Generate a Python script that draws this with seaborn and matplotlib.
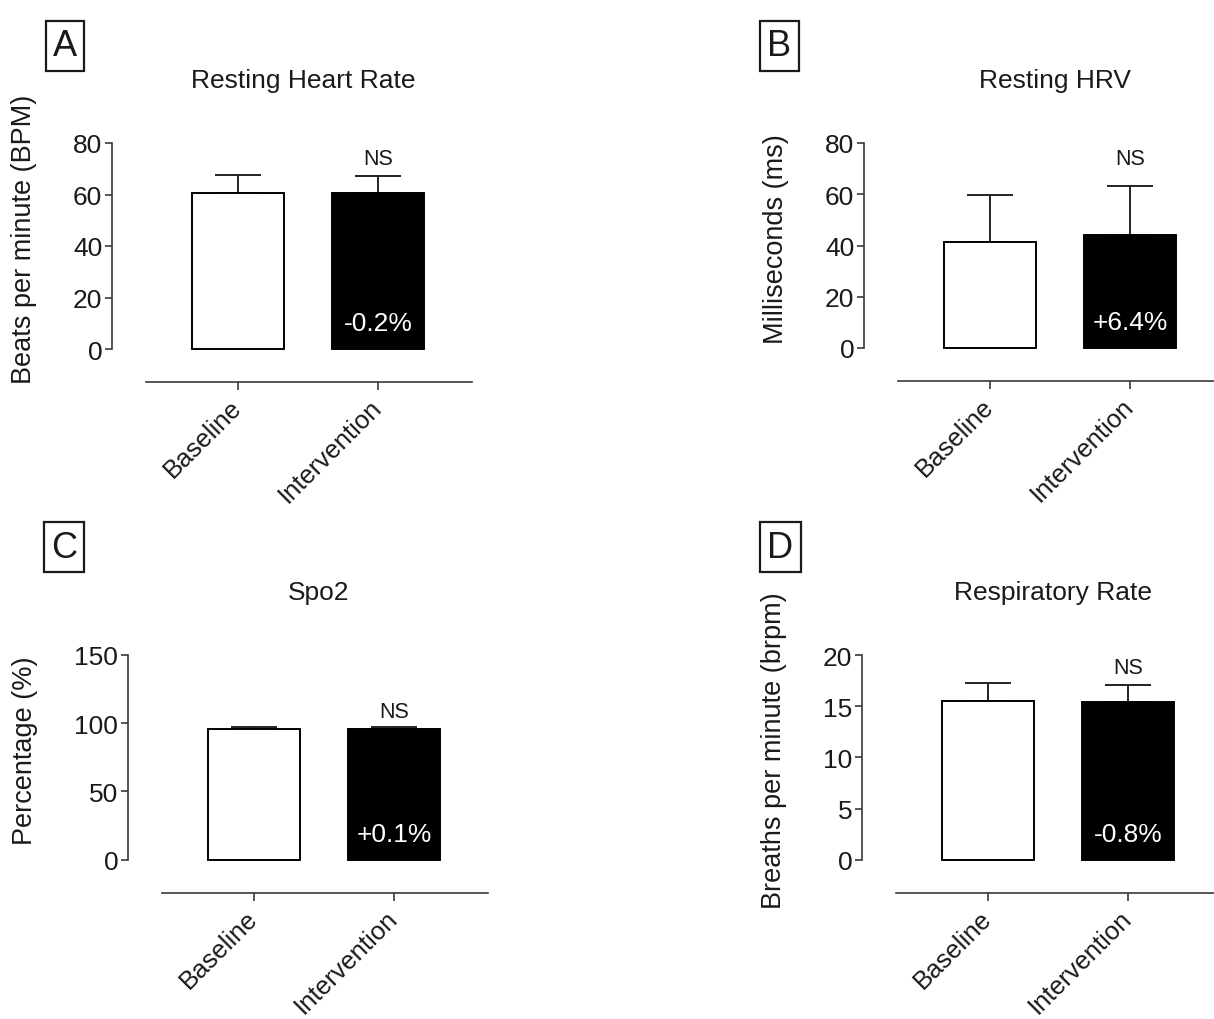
import matplotlib
matplotlib.use("Agg")
import matplotlib.pyplot as plt
import seaborn as sns
import pandas as pd

# ---- data -------------------------------------------------------------
groups = ["Baseline", "Intervention"]

hr_mean = [60.6, 60.5]
hr_sd = [6.8, 6.7]

hrv_mean = [41.5, 44.2]
hrv_sd = [18.3, 19.1]

spo2_mean = [95.8, 95.9]
spo2_sd = [1.2, 1.3]

rr_mean = [15.5, 15.38]
rr_sd = [1.8, 1.7]

titles = ["Resting Heart Rate", "Resting HRV", "Spo2", "Respiratory Rate"]
ylabels = ["Beats per minute (BPM)", "Milliseconds (ms)", "Percentage (%)",
           "Breaths per minute (brpm)"]
letters = ["A", "B", "C", "D"]
changes = ["-0.2%", "+6.4%", "+0.1%", "-0.8%"]
sig = ["NS", "NS", "NS", "NS"]
yticks = [[0, 20, 40, 60, 80], [0, 20, 40, 60, 80], [0, 50, 100, 150],
          [0, 5, 10, 15, 20]]

means = [hr_mean, hrv_mean, spo2_mean, rr_mean]
sds = [hr_sd, hrv_sd, spo2_sd, rr_sd]

# ---- figure -----------------------------------------------------------
sns.set_theme(style="ticks")
plt.rcParams["font.family"] = ["Liberation Sans", "DejaVu Sans"]

W, H = 1214, 1020
fig = plt.figure(figsize=(W / 100, H / 100), dpi=100)

# axes frames in pixels: left, bottom(y from top), top(y from top)
frames = [(112, 350, 144), (864, 349, 144), (128, 860.7, 656), (862, 860.7, 656)]
ax_w = 360
letter_pos = [(65, 47), (779.5, 47), (64, 548), (780.5, 548)]
ns_offset = [17, 27, 16, 17]

ink = "#1a1a1a"
spine_col = "#3a3a3a"
for i in range(4):
    left, bot, top = frames[i]
    ax = fig.add_axes([left / W, (H - bot) / H, ax_w / W, (bot - top) / H])
    df = pd.DataFrame({"group": groups, "value": means[i]})
    sns.barplot(data=df, x="group", y="value", hue="group",
                palette=["white", "black"], edgecolor="black", linewidth=1.4,
                width=0.66, errorbar=None, legend=False, ax=ax, zorder=2)
    for p in ax.patches:
        p.set_clip_on(False)
    ax.errorbar([0, 1], means[i], yerr=[[0, 0], sds[i]], fmt="none",
                ecolor="#222222", elinewidth=1.4, capsize=16.5, capthick=1.4,
                zorder=1, clip_on=False)

    ax.set_xlim(-0.9, 1.67)
    ax.set_ylim(0, yticks[i][-1])
    ax.set_yticks(yticks[i])
    sns.despine(ax=ax)
    ax.spines["left"].set_bounds(0, yticks[i][-1])
    ax.spines["bottom"].set_bounds(-0.66, 1.67)
    ax.spines["bottom"].set_position(("outward", 24))
    for s in ("left", "bottom"):
        ax.spines[s].set_color(spine_col)
        ax.spines[s].set_linewidth(1.2)
    ax.tick_params(axis="y", length=5, width=1.2, color=spine_col, pad=2,
                   labelsize=19, labelcolor=ink)
    ax.tick_params(axis="x", length=5.5, width=1.2, color=spine_col, pad=9.5,
                   labelsize=18.5, labelcolor=ink)
    ax.set_xticks([0, 1])
    ax.set_xticklabels(groups, rotation=45, ha="right", va="center",
                       rotation_mode="anchor")
    ax.set_xlabel("")
    ax.set_ylabel(ylabels[i], fontsize=19.5, color=ink, labelpad=26)
    ax.yaxis.label.set_y(0.535)
    ax.set_title(titles[i], fontsize=19, color=ink, x=0.53, pad=40)

    # percent change inside the intervention bar
    ax.annotate(changes[i], xy=(1, 0), xycoords="data", xytext=(0, 26),
                textcoords="offset pixels", ha="center", va="center",
                color="white", fontsize=19, zorder=5)
    # significance above the intervention error bar
    ax.annotate(sig[i], xy=(1, means[i][1] + sds[i][1]), xycoords="data",
                xytext=(0, ns_offset[i]), textcoords="offset pixels",
                ha="center", va="center", fontsize=15.5, color=ink,
                annotation_clip=False)

    # panel letter in a box
    lx, ly = letter_pos[i]
    fig.text(lx / W, 1 - ly / H, letters[i], fontsize=26, ha="center",
             va="center", color=ink,
             bbox=dict(boxstyle="square,pad=0.2", facecolor="white",
                       edgecolor=ink, linewidth=1.6))

fig.savefig("out.png", dpi=100, facecolor="white")
